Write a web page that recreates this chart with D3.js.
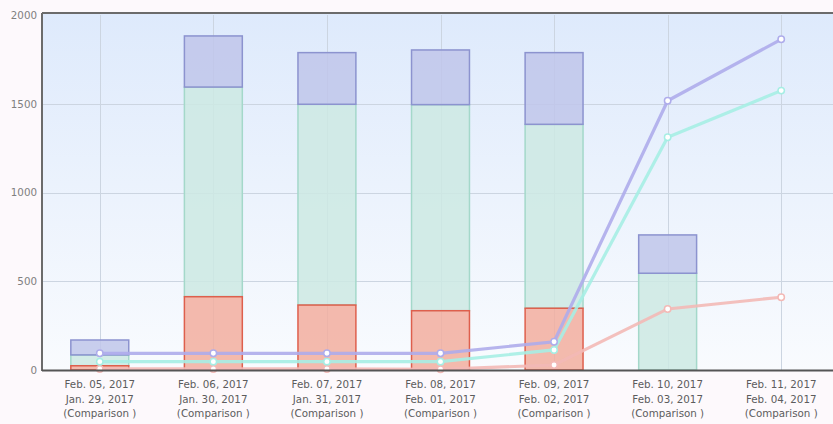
<!DOCTYPE html>
<html>
<head>
	<title></title>
	<script src="https://d3js.org/d3.v7.min.js"></script>
	<style>
		body { margin: 0; background: #fdf9fc; }
		text { font-family: "DejaVu Sans", Verdana, sans-serif; font-size: 10.3px; }
		.grid line { stroke: #ccd5e1; stroke-width: 1; }
		.axis .domain { display: none; }
		.axis line { display: none; }
	</style>
</head>
<body>
	<svg width="833" height="424"></svg>
<script type="text/javascript">

	var categories = ["Feb. 05, 2017", "Feb. 06, 2017", "Feb. 07, 2017", "Feb. 08, 2017", "Feb. 09, 2017", "Feb. 10, 2017", "Feb. 11, 2017"];
	var comparisonDates = ["Jan. 29, 2017", "Jan. 30, 2017", "Jan. 31, 2017", "Feb. 01, 2017", "Feb. 02, 2017", "Feb. 03, 2017", "Feb. 04, 2017"];

	// stacked bar segments (bottom to top)
	var barRed = [24, 413, 366, 334, 348, 0, 0];
	var barGreen = [61, 1181, 1131, 1161, 1036, 545, 0];
	var barBlue = [84, 288, 291, 308, 404, 216, 0];

	// comparison lines
	var lineBlue = [94, 94, 94, 94, 159, 1517, 1863];
	var lineCyan = [47, 47, 47, 47, 113, 1311, 1574];
	var lineRed = [6, 6, 6, 4, 28, 344, 410];

	var yTicks = [0, 500, 1000, 1500, 2000];

	var svg = d3.select("svg");
	// note: "top" is taken by window.top, so use a margin object
	var plot = { left: 43, right: 838, top: 15, bottom: 370 };

	var x = d3.scaleBand().domain(categories).range([plot.left, plot.right]);
	var y = d3.scaleLinear().domain([0, 2000]).range([plot.bottom, plot.top]);

	var defs = svg.append("defs");
	var grad = defs.append("linearGradient").attr("id", "bg")
		.attr("x1", 0).attr("y1", 0).attr("x2", 0).attr("y2", 1);
	grad.append("stop").attr("offset", "0%").attr("stop-color", "#deeafc");
	grad.append("stop").attr("offset", "100%").attr("stop-color", "#f9fbfe");

	// plot background
	svg.append("rect")
		.attr("x", plot.left).attr("y", plot.top - 2)
		.attr("width", plot.right - plot.left).attr("height", plot.bottom - plot.top + 2)
		.attr("fill", "url(#bg)");

	// grid
	var grid = svg.append("g").attr("class", "grid");
	grid.selectAll(".h").data(yTicks.slice(1, -1)).enter().append("line")
		.attr("x1", plot.left).attr("x2", plot.right)
		.attr("y1", function(d) { return Math.round(y(d)) + 0.5; })
		.attr("y2", function(d) { return Math.round(y(d)) + 0.5; });
	grid.selectAll(".v").data(categories).enter().append("line")
		.attr("x1", function(d) { return Math.round(x(d) + x.bandwidth() / 2) + 0.5; })
		.attr("x2", function(d) { return Math.round(x(d) + x.bandwidth() / 2) + 0.5; })
		.attr("y1", plot.top).attr("y2", plot.bottom);

	// bars
	var barData = categories.map(function(c, i) {
		return { cat: c, red: barRed[i], green: barGreen[i], blue: barBlue[i] };
	});
	var keys = ["red", "green", "blue"];
	var fills = { red: "#f2ae9f", green: "#cce9e3", blue: "#c0c6ea" };
	var strokes = { red: "#de5f4d", green: "#a4d8ca", blue: "#8c93cf" };
	var bw = x.bandwidth() * 0.51;

	// green (middle) first so the red and blue outlines stay on top of it
	var stacked = d3.stack().keys(keys)(barData);
	stacked = [stacked[1], stacked[0], stacked[2]];

	svg.append("g")
		.selectAll("g")
		.data(stacked)
		.enter().append("g")
		.attr("fill", function(d) { return fills[d.key]; })
		.attr("stroke", function(d) { return strokes[d.key]; })
		.attr("fill-opacity", 0.85)
		.attr("stroke-width", 1.5)
		.selectAll("rect")
		.data(function(d) { return d.filter(function(s) { return s[1] - s[0] > 0; }); })
		.enter().append("rect")
		.attr("x", function(d) { return x(d.data.cat) + (x.bandwidth() - bw) / 2; })
		.attr("y", function(d) { return y(d[1]); })
		.attr("width", bw)
		.attr("height", function(d) { return y(d[0]) - y(d[1]); });

	// lines
	var lines = [
		{ values: lineRed, color: "#f3b9b6" },
		{ values: lineCyan, color: "#a6eee4" },
		{ values: lineBlue, color: "#aeaceb" }
	];
	var cx = function(i) { return x(categories[i]) + x.bandwidth() / 2; };
	var line = d3.line()
		.x(function(d, i) { return cx(i); })
		.y(function(d) { return y(d); });

	lines.forEach(function(l) {
		svg.append("path")
			.datum(l.values)
			.attr("fill", "none")
			.attr("stroke", l.color)
			.attr("stroke-width", 3.2)
			.attr("stroke-opacity", 0.9)
			.attr("d", line);
		svg.append("g").selectAll("circle")
			.data(l.values)
			.enter().append("circle")
			.attr("cx", function(d, i) { return cx(i); })
			.attr("cy", function(d) { return y(d); })
			.attr("r", 3.2)
			.attr("fill", "#fff")
			.attr("stroke", l.color)
			.attr("stroke-width", 1.5);
	});

	// frame: left axis, top border, zero line
	svg.append("line").attr("x1", plot.left - 1).attr("x2", plot.left - 1).attr("y1", plot.top - 2).attr("y2", plot.bottom + 1)
		.attr("stroke", "#6b6b6b").attr("stroke-width", 2);
	svg.append("line").attr("x1", plot.left - 1).attr("x2", plot.right).attr("y1", plot.top - 2).attr("y2", plot.top - 2)
		.attr("stroke", "#6b6b6b").attr("stroke-width", 2);
	svg.append("line").attr("x1", plot.left - 1).attr("x2", plot.right).attr("y1", plot.bottom + 0.5).attr("y2", plot.bottom + 0.5)
		.attr("stroke", "#555").attr("stroke-width", 2);

	// y axis labels
	var yAxis = svg.append("g")
		.attr("class", "axis")
		.attr("transform", "translate(" + (plot.left - 1) + ",0)")
		.call(d3.axisLeft(y).tickValues(yTicks).tickFormat(d3.format("d")).tickSize(0).tickPadding(5));
	yAxis.selectAll("text").attr("fill", "#808080").style("font-size", "10.3px").style("font-family", "DejaVu Sans, sans-serif");

	// x axis labels
	var xl = svg.append("g").selectAll("text")
		.data(categories)
		.enter().append("text")
		.attr("text-anchor", "middle")
		.attr("fill", "#5c5c5c")
		.attr("x", function(d, i) { return cx(i); })
		.attr("y", 388);
	xl.append("tspan").text(function(d) { return d; });
	xl.append("tspan").attr("x", function(d, i) { return cx(i); }).attr("dy", 14.5)
		.text(function(d, i) { return comparisonDates[i]; });
	xl.append("tspan").attr("x", function(d, i) { return cx(i); }).attr("dy", 14.5)
		.text("(Comparison )");

</script>
</body>
</html>
